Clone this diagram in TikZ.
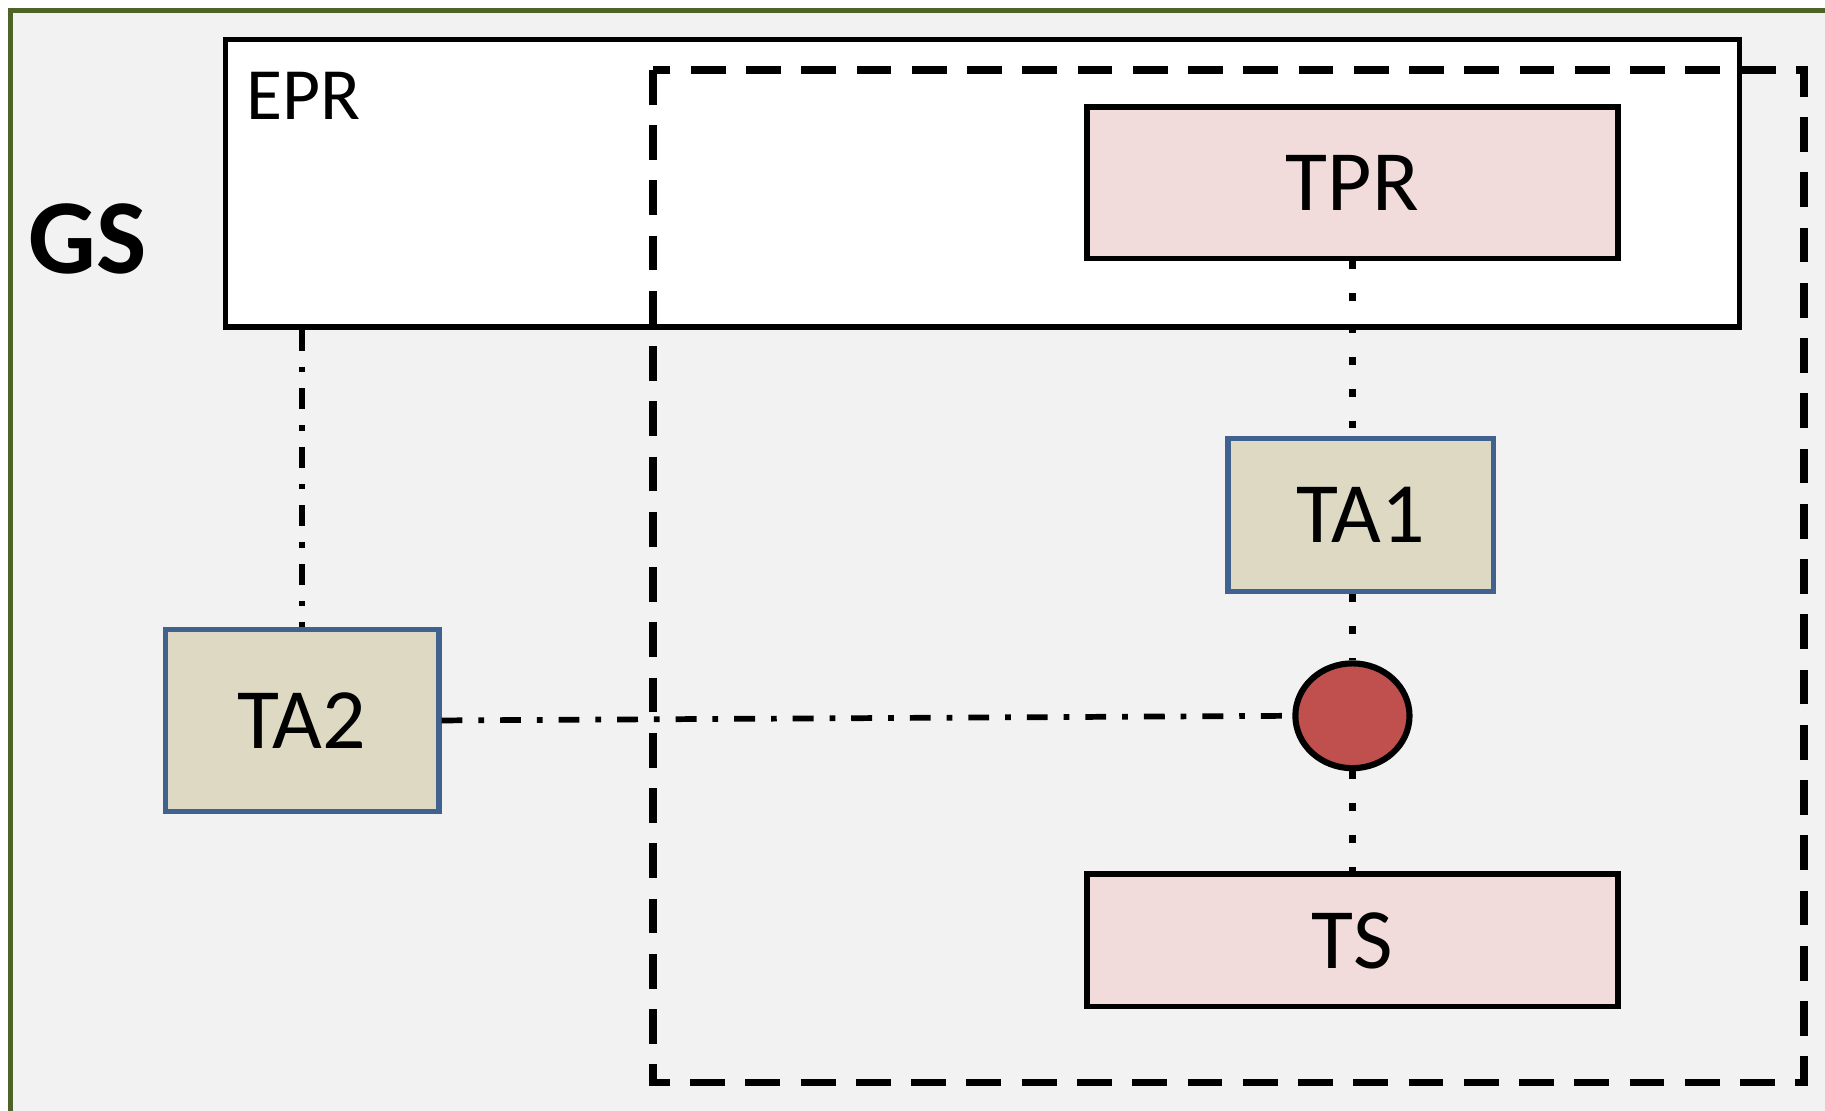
\documentclass[tikz,border=0pt]{standalone}
\usepackage{fontspec}
\setmainfont{Carlito}
\usetikzlibrary{shapes.geometric}
\definecolor{bggray}{HTML}{F2F2F2}
\definecolor{framegreen}{HTML}{4F6228}
\definecolor{rolepink}{HTML}{F2DCDB}
\definecolor{agenttan}{HTML}{DDD9C3}
\definecolor{agentblue}{HTML}{41618F}
\definecolor{hubred}{HTML}{C0504D}
\begin{document}
\begin{tikzpicture}[x=0.01cm,y=0.01cm,
	rolebox/.style={draw=black,line width=1.3pt,fill=rolepink,inner sep=0pt,font=\fontsize{21}{25}\selectfont},
	agentbox/.style={draw=agentblue,line width=1.3pt,fill=agenttan,inner sep=0pt,font=\fontsize{21}{25}\selectfont},
	dotline/.style={line width=1.9pt,dash pattern=on 1.9pt off 5.9pt},
	dashdotline/.style={line width=1.4pt,dash pattern=on 5.1pt off 3.9pt on 1.4pt off 3.9pt}]
		\useasboundingbox (0,0) rectangle (1568,954);
		\clip (0,0) rectangle (1568,954);
		% group frame
		\draw[framegreen,fill=bggray,line width=1pt] (9,-40) rectangle (1620,945);
		\node[font=\bfseries\fontsize{26}{31}\selectfont] (gs) at (75,749) {GS};
		% EPR box and dashed region
		\node[draw=black,fill=white,line width=1.3pt,minimum width=13cm,minimum height=2.47cm] (epr) at (844,796.5) {};
		\node[anchor=base west,inner sep=0pt,font=\fontsize{18}{22}\selectfont] (eprlabel) at (211,851) {EPR};
		\draw[line width=1.9pt,dash pattern=on 8.5pt off 5pt] (561,894) rectangle (1550,24);
		% roles and agents
		\node[rolebox,minimum width=4.56cm,minimum height=1.3cm] (tpr) at (1162,797) {TPR};
		\node[agentbox,minimum width=2.28cm,minimum height=1.31cm] (ta1) at (1169,511.5) {TA1};
		\node[draw=black,fill=hubred,line width=1.5pt,ellipse,minimum width=0.98cm,minimum height=0.9cm,inner sep=0pt] (hub) at (1162,339) {};
		\node[rolebox,minimum width=4.56cm,minimum height=1.14cm] (ts) at (1162,146) {TS};
		\node[agentbox,minimum width=2.35cm,minimum height=1.56cm] (ta2) at (259.5,335) {TA2};
		% links
		\draw[dotline] (tpr.south) -- (tpr.south |- ta1.north);
		\draw[dotline] (hub.north |- ta1.south) -- (hub.north);
		\draw[dotline] (hub.south) -- (ts.north);
		\draw[dashdotline] (ta2.north |- epr.south) -- (ta2.north);
		\draw[dashdotline] (ta2.east) -- (hub.west);
	\end{tikzpicture}
\end{document}
